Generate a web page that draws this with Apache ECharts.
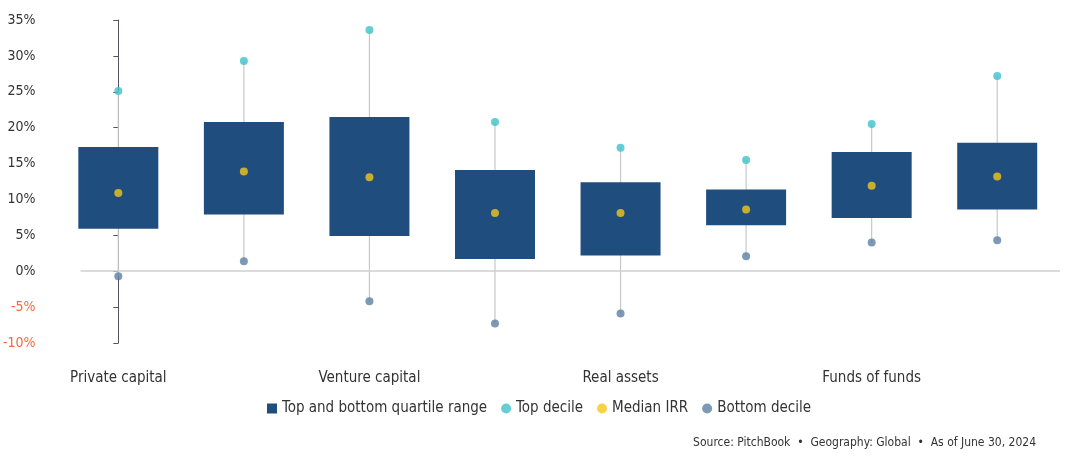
<!DOCTYPE html>
<html>
<head>
<meta charset="utf-8">
<script src="https://cdn.jsdelivr.net/npm/echarts@6/dist/echarts.min.js"></script>
<style>
  html, body { margin: 0; padding: 0; background: #fff; }
  #chart { width: 1078px; height: 459px; }
</style>
</head>
<body>
<div id="chart"></div>
<script>
const categories = ["Private capital", "Private equity", "Venture capital", "Real estate",
  "Real assets", "Private debt", "Funds of funds", "Secondaries"];
const q1 = [5.9, 7.9, 4.9, 1.7, 2.2, 6.4, 7.4, 8.6];
const q3 = [17.3, 20.8, 21.5, 14.1, 12.4, 11.4, 16.6, 17.9];
const topDecile = [25.1, 29.3, 33.6, 20.8, 17.2, 15.5, 20.5, 27.2];
const median = [10.9, 13.9, 13.1, 8.1, 8.1, 8.6, 11.9, 13.2];
const bottomDecile = [-0.7, 1.4, -4.2, -7.3, -5.9, 2.1, 4.0, 4.3];

const font = "'Liberation Sans Narrow', 'DejaVu Sans Condensed', sans-serif";
const chart = echarts.init(document.getElementById("chart"));

chart.setOption({
  animation: false,
  textStyle: { fontFamily: font },
  grid: { left: 39, right: 18, top: 20, bottom: 116 },
  legend: {
    bottom: 38,
    left: "center",
    itemWidth: 10,
    itemHeight: 10,
    itemGap: 14,
    textStyle: { fontSize: 15, color: "#333", fontFamily: font },
    data: [
      { name: "Top and bottom quartile range", icon: "rect" },
      { name: "Top decile", icon: "circle" },
      { name: "Median IRR", icon: "circle" },
      { name: "Bottom decile", icon: "circle" },
    ],
  },
  graphic: [{
    type: "text", right: 42, bottom: 10,
    style: { text: "Source: PitchBook  •  Geography: Global  •  As of June 30, 2024",
      fontSize: 12, fill: "#333", fontFamily: font },
  }],
  xAxis: [
    {
      type: "category",
      data: categories,
      axisLine: { show: false },
      axisTick: { show: false },
      axisLabel: { fontSize: 15, color: "#333", margin: 28 },
    },
    { type: "value", min: -0.5, max: 7.5, show: false },
  ],
  yAxis: {
    type: "value",
    min: -10, max: 35, interval: 5,
    splitLine: { show: false },
    axisLabel: {
      fontSize: 14,
      margin: 20,
      formatter: "{value}%",
      color: (v) => (v < 0 ? "#f26b3a" : "#333"),
    },
  },
  series: [
    {
      name: "whisker",
      type: "custom",
      z: 1,
      data: categories.map((c, i) => [i, bottomDecile[i], topDecile[i]]),
      renderItem: (params, api) => {
        const a = api.coord([api.value(0), api.value(1)]);
        const b = api.coord([api.value(0), api.value(2)]);
        return { type: "line", shape: { x1: a[0], y1: a[1], x2: b[0], y2: b[1] },
          style: { stroke: "#c8c8c8", lineWidth: 1.2 } };
      },
    },
    {
      name: "zero",
      type: "line",
      xAxisIndex: 1,
      data: [],
      markLine: {
        silent: true, symbol: "none", label: { show: false },
        lineStyle: { color: "#cfcfcf", width: 1.5, type: "solid" },
        data: [[{ coord: [-0.3, 0] }, { coord: [7.5, 0] }]],
      },
    },
    {
      name: "base",
      type: "bar",
      stack: "box",
      barWidth: 80,
      itemStyle: { color: "transparent" },
      data: q1,
      z: 2,
    },
    {
      name: "Top and bottom quartile range",
      type: "bar",
      stack: "box",
      barWidth: 80,
      itemStyle: { color: "#1f4e7e" },
      data: q3.map((v, i) => +(v - q1[i]).toFixed(2)),
      z: 2,
    },
    { name: "Top decile", type: "scatter", symbolSize: 8, z: 5,
      itemStyle: { color: "#3ec1c9" }, data: topDecile },
    { name: "Median IRR", type: "scatter", symbolSize: 8, z: 5,
      itemStyle: { color: "#f5c518" }, data: median },
    { name: "Bottom decile", type: "scatter", symbolSize: 8, z: 5,
      itemStyle: { color: "#5b7fa3" }, data: bottomDecile },
  ],
});
</script>
</body>
</html>
